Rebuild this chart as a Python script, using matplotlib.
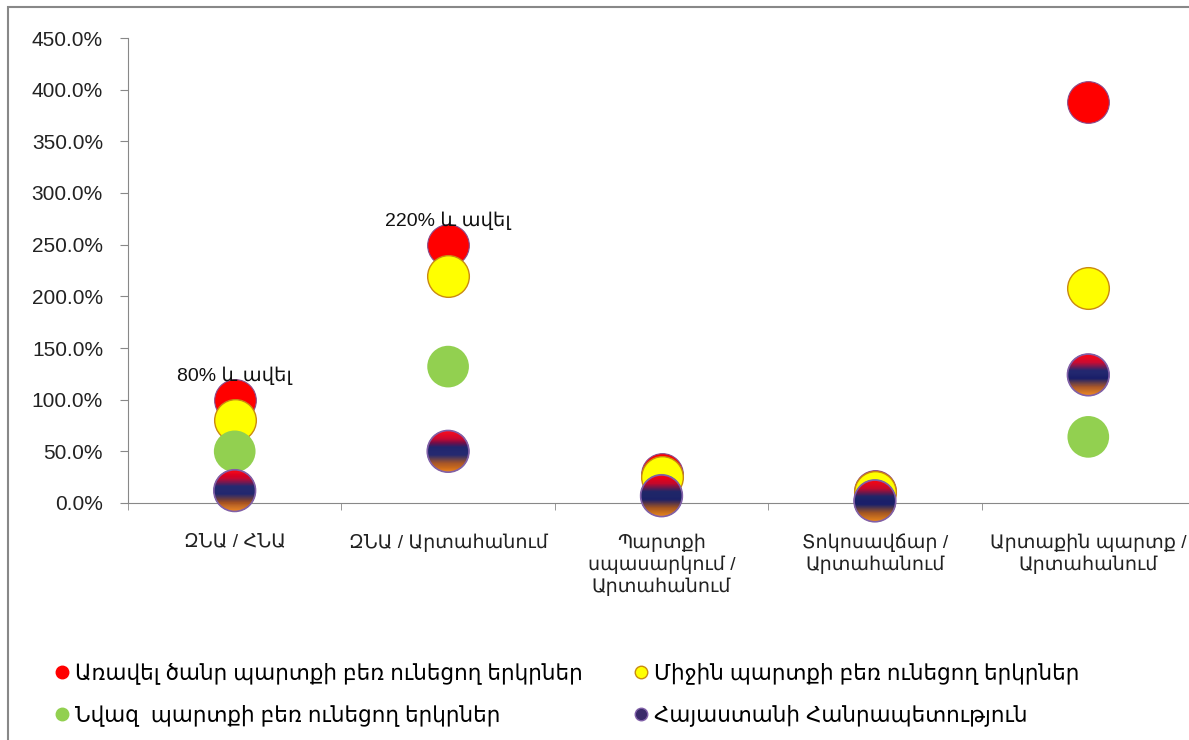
import numpy as np
import matplotlib
matplotlib.use("Agg")
import matplotlib.pyplot as plt
from matplotlib.patches import Rectangle
from matplotlib.collections import PolyCollection
from matplotlib.lines import Line2D
from matplotlib.colors import LinearSegmentedColormap

plt.rcParams['font.family'] = ['Liberation Sans', 'DejaVu Sans']

# Data
categories = ["ԶՆԱ / ՀՆԱ", "ԶՆԱ / Արտահանում",
              "Պարտքի\nսպասարկում /\nԱրտահանում",
              "Տոկոսավճար /\nԱրտահանում",
              "Արտաքին պարտք /\nԱրտահանում"]
heavy = [100, 250, 28, 12, 388]
medium = [80, 220, 25, 11, 208]
light = [50, 132, 8, 3, 64]
armenia = [12, 50, 7, 2, 124]
names = ["Առավել ծանր պարտքի բեռ ունեցող երկրներ",
         "Միջին պարտքի բեռ ունեցող երկրներ",
         "Նվազ  պարտքի բեռ ունեցող երկրներ",
         "Հայաստանի Հանրապետություն"]
notes = ["80% և ավել", "220% և ավել"]
yticks = np.arange(0, 451, 50)

W, H, DPI = 11.89, 7.40, 100
fig = plt.figure(figsize=(W, H), dpi=DPI)
ax = fig.add_axes([128 / 1189, 1 - 503 / 740, 1067 / 1189, 465 / 740])
ax.set_xlim(-0.5, len(categories) - 0.5)
ax.set_ylim(0, 450)

x = np.arange(len(categories))
msize = 900
ax.scatter(x, heavy, s=msize, c='#ff0000', edgecolors='#8a4a8a', linewidths=0.8,
           zorder=3, clip_on=False)
ax.scatter(x, medium, s=msize, c='#ffff00', edgecolors='#c98a10', linewidths=1.0,
           zorder=4, clip_on=False)
ax.scatter(x, light, s=msize, c='#92d050', edgecolors='none',
           zorder=5, clip_on=False)

# Armenia markers: flag-like vertical gradient, drawn as horizontal bands of a circle
flag = LinearSegmentedColormap.from_list(
    'flag', ['#ff0010', '#c8002a', '#1a1f6a', '#1a1f6a', '#a55020', '#e8801a'])
pos = ax.get_position()
r_px = np.sqrt(msize) / 2 * DPI / 72
rx = r_px / (pos.width * W * DPI) * np.diff(ax.get_xlim())[0]
ry = r_px / (pos.height * H * DPI) * np.diff(ax.get_ylim())[0]
n_band = 40
cuts = np.linspace(1, -1, n_band + 1)
polys, cols = [], []
for xi, yi in zip(x, armenia):
    for k in range(n_band):
        ys = np.linspace(cuts[k], cuts[k + 1], 8)
        xs = np.sqrt(np.clip(1 - ys ** 2, 0, None))
        px = np.concatenate([xs, -xs[::-1]])
        py = np.concatenate([ys, ys[::-1]])
        polys.append(np.column_stack([xi + rx * px, yi + ry * py]))
        cols.append(flag(k / (n_band - 1)))
bands = PolyCollection(polys, facecolors=cols, edgecolors=cols, linewidths=0.4,
                       zorder=6, clip_on=False)
ax.add_collection(bands, autolim=False)
ax.scatter(x, armenia, s=msize, facecolors='none', edgecolors='#8060a8',
           linewidths=1.2, zorder=7, clip_on=False)

for i, txt in enumerate(notes):
    ax.annotate(txt, (x[i], heavy[i]), xytext=(0, 17), textcoords='offset points',
                ha='center', va='center', fontsize=14, color='#111111', zorder=8)

ax.set_yticks(yticks)
ax.set_yticklabels([f"{v:.1f}%" for v in yticks], fontsize=15, color='#222222')
ax.set_xticks(x)
ax.set_xticklabels(categories, fontsize=13.8, color='#222222', linespacing=1.25)
ax.set_xticks(np.arange(-0.5, len(categories), 1), minor=True)
ax.tick_params(axis='x', which='major', length=0, pad=22)
ax.tick_params(axis='x', which='minor', length=5, color='#888888')
ax.tick_params(axis='y', length=6, color='#888888', pad=12)
for s in ['top', 'right']:
    ax.spines[s].set_visible(False)
for s in ['left', 'bottom']:
    ax.spines[s].set_color('#888888')

# outer chart frame
fig.patches.append(Rectangle((8 / 1189, -0.05), 1.2, 1.05 - 7 / 740,
                             transform=fig.transFigure, fill=False,
                             edgecolor='#888888', linewidth=1.5))

handles = [
    Line2D([], [], ls='none', marker='o', ms=9, mfc='#ff0000', mec='#ff0000'),
    Line2D([], [], ls='none', marker='o', ms=9, mfc='#92d050', mec='#92d050'),
    Line2D([], [], ls='none', marker='o', ms=9, mfc='#ffff00', mec='#c98a10'),
    Line2D([], [], ls='none', marker='o', ms=9, mfc='#3a2a6a', mec='#8060a8'),
]
labels = [names[0], names[2], names[1], names[3]]
fig.legend(handles, labels, loc='upper left', bbox_to_anchor=(30 / 1189, 1 - 643 / 740),
           ncol=2, frameon=False, fontsize=15.5, handletextpad=0.0,
           columnspacing=2.1, labelspacing=0.95, handlelength=1.2)

fig.savefig("out.png", dpi=DPI)
